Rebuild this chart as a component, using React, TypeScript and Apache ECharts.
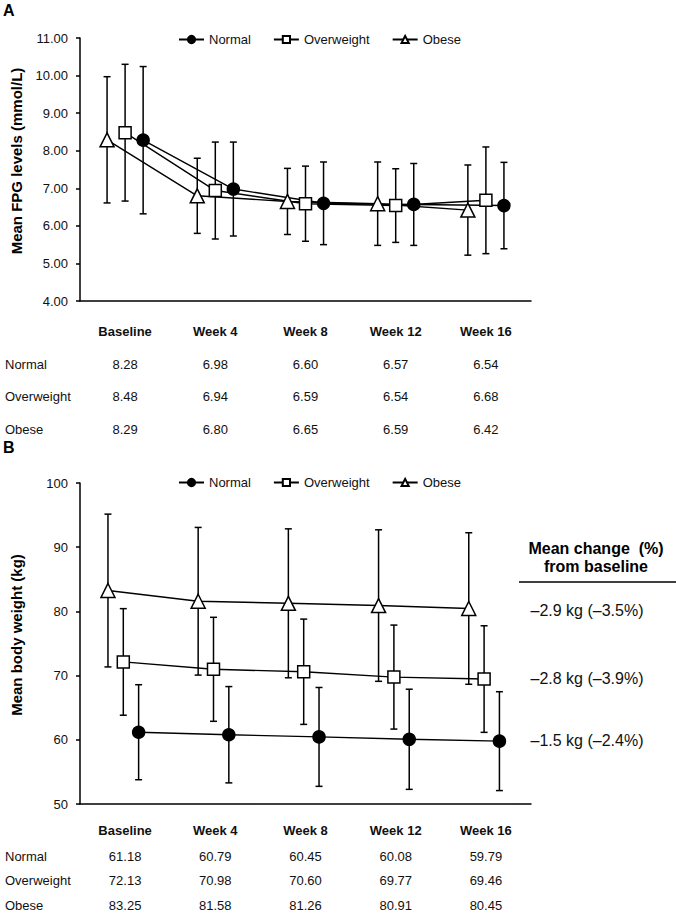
import React, { useEffect, useRef } from "react";
import * as echarts from "echarts";

const categories = ["Baseline", "Week 4", "Week 8", "Week 12", "Week 16"];
const groupNames = ["Normal", "Overweight", "Obese"];

// Panel A: mean FPG (mmol/L)
const fpgNormal = [8.28, 6.98, 6.6, 6.57, 6.54];
const fpgOverweight = [8.48, 6.94, 6.59, 6.54, 6.68];
const fpgObese = [8.29, 6.8, 6.65, 6.59, 6.42];
const fpgNormalSD = [1.96, 1.25, 1.1, 1.09, 1.15];
const fpgOverweightSD = [1.82, 1.29, 1.0, 0.98, 1.42];
const fpgObeseSD = [1.68, 1.0, 0.88, 1.11, 1.2];
const fpgMin = 4;
const fpgMax = 11;
const fpgInterval = 1;

// Panel B: mean body weight (kg)
const wtNormal = [61.18, 60.79, 60.45, 60.08, 59.79];
const wtOverweight = [72.13, 70.98, 70.6, 69.77, 69.46];
const wtObese = [83.25, 81.58, 81.26, 80.91, 80.45];
const wtNormalSD = [7.4, 7.5, 7.7, 7.8, 7.7];
const wtOverweightSD = [8.3, 8.1, 8.2, 8.1, 8.3];
const wtObeseSD = [11.9, 11.5, 11.6, 11.8, 11.8];
const wtMin = 50;
const wtMax = 100;
const wtInterval = 10;

const changeHeader = ["Mean change  (%)", "from baseline"];
const changeObese = "\u20132.9 kg (\u20133.5%)";
const changeOverweight = "\u20132.8 kg (\u20133.9%)";
const changeNormal = "\u20131.5 kg (\u20132.4%)";

const FONT = "'Liberation Sans', Arial, Helvetica, sans-serif";
const TXT = "#111";

const symbols: Record<string, any> = {
  Normal: { symbol: "circle", size: 12, fill: "#000" },
  Overweight: { symbol: "rect", size: 12, fill: "#fff" },
  Obese: { symbol: "triangle", size: 14, fill: "#fff" },
};

function lineSeries(name: string, vals: number[], offset: number, grid: number) {
  const s = symbols[name];
  return {
    type: "line",
    name,
    xAxisIndex: grid * 2 + 1,
    yAxisIndex: grid,
    data: vals.map((v, i) => [i + offset, v]),
    symbol: s.symbol,
    symbolSize: s.size,
    showAllSymbol: true,
    lineStyle: { color: "#000", width: 1.4 },
    itemStyle: { color: s.fill, borderColor: "#000", borderWidth: 1.5 },
    z: 4,
    silent: true,
  };
}

function errSeries(name: string, vals: number[], sds: number[], offset: number, grid: number) {
  return {
    type: "custom",
    name: "err-" + name + "-" + grid,
    xAxisIndex: grid * 2 + 1,
    yAxisIndex: grid,
    z: 2,
    silent: true,
    data: vals.map((v, i) => [i + offset, v - sds[i], v + sds[i]]),
    renderItem: (params: any, api: any) => {
      const x = api.value(0);
      const lo = api.coord([x, api.value(1)]);
      const hi = api.coord([x, api.value(2)]);
      const w = 3.5;
      const st = { stroke: "#000", lineWidth: 1.5 };
      return {
        type: "group",
        children: [
          { type: "line", shape: { x1: hi[0], y1: hi[1], x2: lo[0], y2: lo[1] }, style: st },
          { type: "line", shape: { x1: hi[0] - w, y1: hi[1], x2: hi[0] + w, y2: hi[1] }, style: st },
          { type: "line", shape: { x1: lo[0] - w, y1: lo[1], x2: lo[0] + w, y2: lo[1] }, style: st },
        ],
      };
    },
  };
}

function tableAxis(grid: number, rows: number[][], margin: number, headH: number, rowH: number) {
  return {
    type: "category",
    gridIndex: grid,
    data: categories,
    boundaryGap: true,
    axisLine: { show: true, onZero: false, lineStyle: { color: "#000", width: 1.5 } },
    axisTick: { show: false },
    splitLine: { show: false },
    axisLabel: {
      interval: 0,
      margin,
      hideOverlap: false,
      formatter: (value: string, idx: number) =>
        "{h|" + value + "}\n" + rows.map((r) => "{v|" + r[idx].toFixed(2) + "}").join("\n"),
      rich: {
        h: { fontFamily: FONT, fontSize: 13, fontWeight: "bold", color: TXT, lineHeight: headH, align: "center" },
        v: { fontFamily: FONT, fontSize: 13, color: TXT, lineHeight: rowH, align: "center" },
      },
    },
  };
}

function hiddenX(grid: number) {
  return { type: "value", gridIndex: grid, min: -0.5, max: 4.5, show: false, axisLine: { onZero: false } };
}

function yAxis(grid: number, min: number, max: number, interval: number, digits: number) {
  return {
    type: "value",
    gridIndex: grid,
    min,
    max,
    interval,
    axisLine: { show: true, onZero: false, lineStyle: { color: "#000", width: 1.5 } },
    axisTick: { show: true, length: 4, lineStyle: { color: "#000", width: 1.5 } },
    splitLine: { show: false },
    axisLabel: {
      margin: 12,
      fontFamily: FONT,
      fontSize: 13,
      color: TXT,
      formatter: (v: number) => v.toFixed(digits),
    },
  };
}

function legend(top: number) {
  return {
    data: groupNames,
    left: 178,
    top,
    padding: 0,
    itemWidth: 25,
    itemHeight: 9,
    itemGap: 22,
    selectedMode: false,
    textStyle: { fontFamily: FONT, fontSize: 13, color: TXT },
  };
}

function rowLabels(ys: number[]) {
  return groupNames.map((n, i) => ({
    type: "text",
    x: 5,
    y: ys[i],
    style: { text: n, fontFamily: FONT, fontSize: 13, fill: TXT, textAlign: "left", textVerticalAlign: "middle" },
  }));
}

export default function App() {
  const ref = useRef<HTMLDivElement>(null);
  useEffect(() => {
    if (!ref.current) return;
    const chart = echarts.init(ref.current, undefined, { renderer: "svg" });
    const offA = { Obese: -0.2, Overweight: 0, Normal: 0.2 };
    const offB = { Obese: -0.19, Overweight: -0.02, Normal: 0.15 };
    const option: any = {
      animation: false,
      backgroundColor: "#fff",
      grid: [
        { left: 80, top: 38, width: 451, height: 263 },
        { left: 80, top: 483, width: 451, height: 321 },
      ],
      legend: [legend(33), legend(476)],
      xAxis: [
        tableAxis(0, [fpgNormal, fpgOverweight, fpgObese], 13, 34, 32.5),
        hiddenX(0),
        tableAxis(1, [wtNormal, wtOverweight, wtObese], 12, 28, 24.5),
        hiddenX(1),
      ],
      yAxis: [yAxis(0, fpgMin, fpgMax, fpgInterval, 2), yAxis(1, wtMin, wtMax, wtInterval, 0)],
      series: [
        errSeries("Obese", fpgObese, fpgObeseSD, offA.Obese, 0),
        errSeries("Overweight", fpgOverweight, fpgOverweightSD, offA.Overweight, 0),
        errSeries("Normal", fpgNormal, fpgNormalSD, offA.Normal, 0),
        lineSeries("Obese", fpgObese, offA.Obese, 0),
        lineSeries("Overweight", fpgOverweight, offA.Overweight, 0),
        lineSeries("Normal", fpgNormal, offA.Normal, 0),
        errSeries("Obese", wtObese, wtObeseSD, offB.Obese, 1),
        errSeries("Overweight", wtOverweight, wtOverweightSD, offB.Overweight, 1),
        errSeries("Normal", wtNormal, wtNormalSD, offB.Normal, 1),
        lineSeries("Obese", wtObese, offB.Obese, 1),
        lineSeries("Overweight", wtOverweight, offB.Overweight, 1),
        lineSeries("Normal", wtNormal, offB.Normal, 1),
      ],
      graphic: [
        { type: "text", x: 3, y: 10, style: { text: "A", fontFamily: FONT, fontSize: 16, fontWeight: "bold", fill: "#000", textVerticalAlign: "middle" } },
        { type: "text", x: 3, y: 447, style: { text: "B", fontFamily: FONT, fontSize: 16, fontWeight: "bold", fill: "#000", textVerticalAlign: "middle" } },
        {
          type: "text", x: 16, y: 161, rotation: Math.PI / 2,
          style: { text: "Mean FPG levels (mmol/L)", fontFamily: FONT, fontSize: 15, fontWeight: "bold", fill: "#000", textAlign: "center", textVerticalAlign: "middle" },
        },
        {
          type: "text", x: 16, y: 635, rotation: Math.PI / 2,
          style: { text: "Mean body weight (kg)", fontFamily: FONT, fontSize: 15, fontWeight: "bold", fill: "#000", textAlign: "center", textVerticalAlign: "middle" },
        },
        ...rowLabels([364, 396.5, 429]),
        ...rowLabels([856, 880.5, 905]),
        { type: "text", x: 596, y: 548, style: { text: changeHeader[0], fontFamily: FONT, fontSize: 16, fontWeight: "bold", fill: "#000", textAlign: "center", textVerticalAlign: "middle" } },
        { type: "text", x: 596, y: 566, style: { text: changeHeader[1], fontFamily: FONT, fontSize: 16, fontWeight: "bold", fill: "#000", textAlign: "center", textVerticalAlign: "middle" } },
        { type: "line", shape: { x1: 519, y1: 582, x2: 676, y2: 582 }, style: { stroke: "#000", lineWidth: 1.5 } },
        { type: "text", x: 587, y: 610, style: { text: changeObese, fontFamily: FONT, fontSize: 16, fill: TXT, textAlign: "center", textVerticalAlign: "middle" } },
        { type: "text", x: 587, y: 678, style: { text: changeOverweight, fontFamily: FONT, fontSize: 16, fill: TXT, textAlign: "center", textVerticalAlign: "middle" } },
        { type: "text", x: 587, y: 740, style: { text: changeNormal, fontFamily: FONT, fontSize: 16, fill: TXT, textAlign: "center", textVerticalAlign: "middle" } },
      ],
    };
    chart.setOption(option);
    return () => chart.dispose();
  }, []);
  return (
    <div
      ref={ref}
      style={{ position: "absolute", left: 0, top: 0, width: 676, height: 913, background: "#fff" }}
    />
  );
}
